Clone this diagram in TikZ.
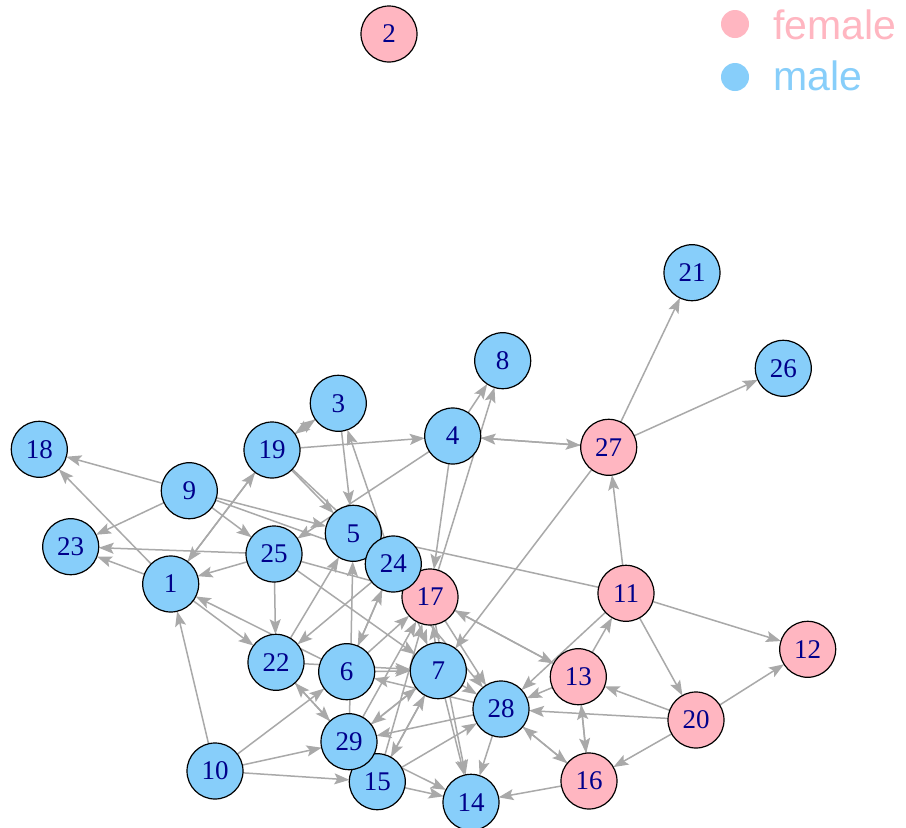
\documentclass[tikz,border=0pt]{standalone}
\usepackage{fontspec}
\setmainfont{Liberation Serif}
\newfontfamily\legendfont{Liberation Sans}
\usetikzlibrary{arrows.meta}
\pgfdeclarelayer{background}
\pgfsetlayers{background,main}
\definecolor{fem}{HTML}{FFB6C1}
\definecolor{mal}{HTML}{87CEFA}
\definecolor{edgegray}{HTML}{A9A9A9}
\definecolor{lab}{HTML}{00008B}
\begin{document}
\begin{tikzpicture}[x=1pt,y=-1pt,
  vert/.style={circle,draw=black,line width=1.2pt,minimum size=56pt,inner sep=0pt,outer sep=0pt,font=\fontsize{27}{27}\selectfont,text=lab},
  fnode/.style={vert,fill=fem},
  mnode/.style={vert,fill=mal},
  link/.style={draw=edgegray,line width=1.5pt,-{Stealth[length=15pt,width=11pt,inset=3pt]}},
  legdot/.style={circle,minimum size=28pt,inner sep=0pt,outer sep=0pt},
  legtext/.style={anchor=base west,inner sep=0pt,font=\legendfont\fontsize{41}{41}\selectfont}]
\useasboundingbox (0,0) rectangle (906,828);
% vertices
\node[mnode] (n1) at (170.7,584) {1};
\node[fnode] (n2) at (389,34) {2};
\node[mnode] (n3) at (338.3,403.3) {3};
\node[mnode] (n4) at (452.7,436) {4};
\node[mnode] (n5) at (353.3,533.3) {5};
\node[mnode] (n6) at (346.7,671.7) {6};
\node[mnode] (n7) at (438.3,670.7) {7};
\node[mnode] (n8) at (502.7,360.7) {8};
\node[mnode] (n9) at (189.3,490.7) {9};
\node[mnode] (n10) at (215,771) {10};
\node[fnode] (n11) at (626,593.3) {11};
\node[fnode] (n12) at (807.7,649.3) {12};
\node[fnode] (n13) at (578.3,676.7) {13};
\node[mnode] (n14) at (471,802.3) {14};
\node[mnode] (n15) at (377.3,781.7) {15};
\node[fnode] (n16) at (589,781) {16};
\node[fnode] (n17) at (430,597) {17};
\node[mnode] (n18) at (39.3,449.3) {18};
\node[mnode] (n19) at (272,450) {19};
\node[fnode] (n20) at (696,720) {20};
\node[mnode] (n21) at (692,272.7) {21};
\node[mnode] (n22) at (276,662.3) {22};
\node[mnode] (n23) at (70.7,546.7) {23};
\node[mnode] (n24) at (393.3,564) {24};
\node[mnode] (n25) at (274,554) {25};
\node[mnode] (n26) at (783.3,368.3) {26};
\node[fnode] (n27) at (608.7,447.3) {27};
\node[mnode] (n28) at (501,709) {28};
\node[mnode] (n29) at (349,741.7) {29};
% edges
\begin{pgfonlayer}{background}
\fill[white] (0,0) rectangle (906,828);
\foreach \a/\b in {9/18, 1/18, 9/23, 25/23, 1/23, 1/19, 19/1, 9/25, 25/1, 9/5, 9/24,
  6/1, 1/22, 10/1, 25/22, 19/5, 19/24, 3/19, 19/3, 19/4, 3/5, 24/3, 4/25, 4/8, 17/8,
  4/17, 4/27, 27/4, 27/21, 27/26, 27/7, 11/27, 11/5, 11/12, 11/20, 20/12, 20/13,
  20/28, 20/16, 13/11, 13/16, 16/13, 11/28, 13/28, 17/13, 13/17, 28/14, 16/14, 7/14,
  17/14, 15/14, 29/14, 10/15, 10/29, 10/6, 28/16, 16/28, 22/29, 29/22, 29/5, 6/24,
  24/6, 22/5, 24/22, 6/17, 6/7, 22/7, 28/6, 7/29, 29/7, 28/29, 7/15, 15/7, 15/17,
  15/28, 25/17, 25/7, 24/7, 17/28, 7/28, 5/28, 7/17, 29/17}
  \draw[link] (n\a) -- (n\b);
\end{pgfonlayer}
% legend
\node[legdot,fill=fem] (lf) at (735,24) {};
\node[legdot,fill=mal] (lm) at (735,77) {};
\node[legtext,text=fem] (tf) at (773,39) {female};
\node[legtext,text=mal] (tm) at (773,90) {male};
\end{tikzpicture}
\end{document}
